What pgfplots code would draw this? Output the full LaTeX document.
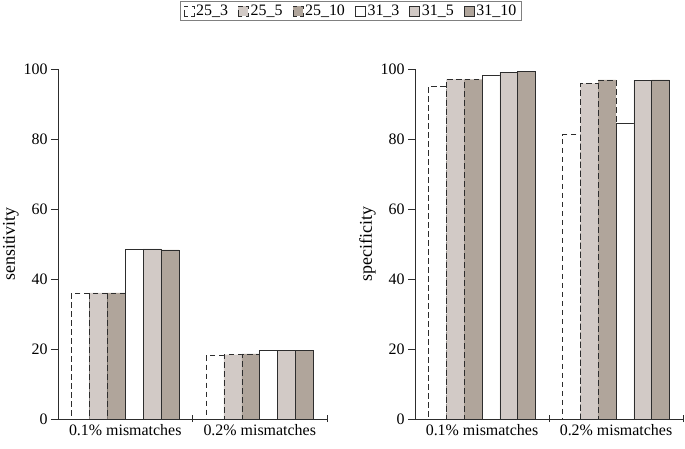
\documentclass[border=0pt]{standalone}
\usepackage{fontspec}
\setmainfont{Liberation Serif}
\usepackage{pgfplots}
\pgfplotsset{compat=1.18}
\definecolor{lg}{RGB}{210,202,198}
\definecolor{dg}{RGB}{176,165,155}
\definecolor{ln}{RGB}{45,45,45}
\pgfplotsset{
  mystyle/.style={
    scale only axis, height=350bp, anchor=south west,
    ybar=0pt, bar width=0.133,
    xmin=-0.5, xmax=1.5, ymin=0, ymax=100,
    axis lines*=left,
    axis line style={ln},
    ytick={0,20,...,100},
    xtick={0.5,1.5}, xticklabels={},
    extra x ticks={0,1},
    extra x tick labels={0.1\% mismatches,0.2\% mismatches},
    extra x tick style={major tick length=0pt},
    tick align=outside, major tick length=7bp,
    tick style={ln},
    xtick style={yshift=4bp},
    /pgf/number format/assume math mode=true,
    xticklabel style={yshift=-2bp},
    every tick label/.append style={font=\fontsize{16}{18}\selectfont},
    label style={font=\fontsize{18}{20}\selectfont},
    ylabel style={yshift=-2bp},
    every axis plot/.append style={draw=ln, line width=0.6pt},
    area legend,
  },
  dsh/.style={dash pattern=on 5.5bp off 3.5bp},
}
\begin{document}
\begin{tikzpicture}
\path[use as bounding box] (0,0) rectangle (685bp,449bp);
\begin{axis}[mystyle, at={(58bp,30bp)}, width=269bp,
  ylabel={sensitivity},
  legend columns=6,
  legend style={at={(1.089,1.194)}, anchor=north, draw=gray, line width=0.6pt,
    font=\fontsize{16}{18}\selectfont, inner ysep=1.5bp,
    /tikz/every even column/.append style={column sep=8bp}},
  legend image code/.code={\draw[#1] (0bp,-5bp) rectangle (10bp,5bp);}
]
\addplot[dsh, fill=white] coordinates {(0,36.0) (1,18.1)};
\addplot[dsh, fill=lg] coordinates {(0,36.0) (1,18.4)};
\addplot[dsh, fill=dg] coordinates {(0,36.0) (1,18.6)};
\addplot[solid, fill=white] coordinates {(0,48.5) (1,19.6)};
\addplot[solid, fill=lg] coordinates {(0,48.6) (1,19.6)};
\addplot[solid, fill=dg] coordinates {(0,48.3) (1,19.6)};
\legend{25\_3,25\_5,25\_10,31\_3,31\_5,31\_10}
\end{axis}
\begin{axis}[mystyle, at={(415bp,30bp)}, width=268bp,
  ylabel={specificity}]
\addplot[dsh, fill=white] coordinates {(0,95.0) (1,81.2)};
\addplot[dsh, fill=lg] coordinates {(0,97.0) (1,95.9)};
\addplot[dsh, fill=dg] coordinates {(0,97.0) (1,96.9)};
\addplot[solid, fill=white] coordinates {(0,98.2) (1,84.5)};
\addplot[solid, fill=lg] coordinates {(0,99.1) (1,96.8)};
\addplot[solid, fill=dg] coordinates {(0,99.2) (1,96.9)};
\end{axis}
\end{tikzpicture}
\end{document}
